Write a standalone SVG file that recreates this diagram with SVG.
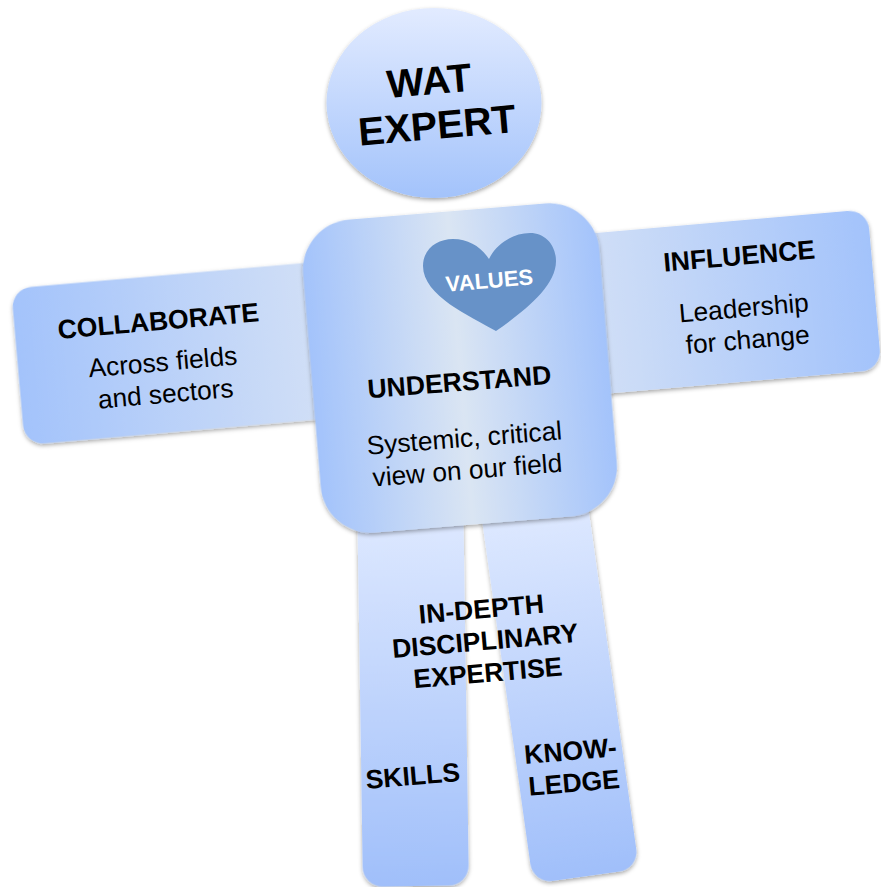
<svg xmlns="http://www.w3.org/2000/svg" width="881" height="887" viewBox="0 0 881 887">
<style>
text{font-family:"Liberation Sans",Arial,sans-serif;fill:#000;text-anchor:middle}
.h{font-weight:700;font-size:26.6px}
.b{font-size:26.3px}
.l{font-weight:700;font-size:26.6px}
</style>
<defs>
<filter id="sh" x="-10%" y="-10%" width="120%" height="120%"><feDropShadow dx="0" dy="2" stdDeviation="2" flood-color="#000" flood-opacity=".35"/></filter>
<linearGradient id="headG" x1="0" y1="0" x2="0" y2="1"><stop offset="0" stop-color="#e2ebff"/><stop offset="1" stop-color="#a3c3fb"/></linearGradient>
<linearGradient id="torsoG" x1="0" y1="0" x2="1" y2="0"><stop offset="0" stop-color="#a3c3fb"/><stop offset=".5" stop-color="#dae5f3"/><stop offset="1" stop-color="#a3c3fb"/></linearGradient>
<linearGradient id="armL" x1="0" y1="0" x2="1" y2="0"><stop offset="0" stop-color="#a3c3fb"/><stop offset="1" stop-color="#d4e1f6"/></linearGradient>
<linearGradient id="armR" x1="0" y1="0" x2="1" y2="0"><stop offset="0" stop-color="#d4e1f6"/><stop offset="1" stop-color="#a3c3fb"/></linearGradient>
<linearGradient id="legG" x1="0" y1="0" x2="0" y2="1"><stop offset="0" stop-color="#e0eaff"/><stop offset="1" stop-color="#a0bffa"/></linearGradient>
</defs>
<g id="leg-left"><rect x="360" y="500" width="106" height="386" rx="20" fill="url(#legG)" filter="url(#sh)" transform="rotate(-.85 412 690)"/></g>
<g id="leg-right"><rect x="506" y="494" width="107" height="384" rx="20" fill="url(#legG)" filter="url(#sh)" transform="rotate(-8 560 687)"/></g>
<g id="arm-left"><rect x="17.500" y="275.500" width="320" height="157" rx="20" fill="url(#armL)" filter="url(#sh)" transform="rotate(-5 165 355)"/></g>
<g id="arm-right"><rect x="570" y="222" width="305" height="161" rx="20" fill="url(#armR)" filter="url(#sh)" transform="rotate(-5 725 302)"/></g>
<g id="head"><ellipse cx="434" cy="103" rx="107.500" ry="95" fill="url(#headG)" filter="url(#sh)"/>
<g transform="rotate(-5 434 103)"><text x="431" y="94" style="font-weight:700;font-size:39.500px">WAT</text><text x="435" y="139" style="font-weight:700;font-size:39.500px">EXPERT</text></g></g>
<g id="torso"><rect x="311.500" y="211" width="297" height="314" rx="50" fill="url(#torsoG)" filter="url(#sh)" transform="rotate(-4.7 460 368)"/>
<path id="heart" d="M496 331C470 316 423 296 423 266C423 249 437 239 453 239C469 239 481 247 489 259C496 244 513 233 530 233C546 233 556 246 556 261C556 287 523 312 496 331Z" fill="#6792c8"/>
<text x="490" y="288" transform="rotate(-5 490 288)" style="font-weight:700;font-size:22px;fill:#fff">VALUES</text>
<text class="h" x="460" y="391" transform="rotate(-4.5 460 391)">UNDERSTAND</text>
<text class="b" x="465" y="447" transform="rotate(-4.5 465 447)">Systemic, critical</text>
<text class="b" x="468" y="479" transform="rotate(-4.5 468 479)">view on our field</text></g>
<g id="label-collaborate" transform="rotate(-5 160 330)"><text class="h" x="159" y="330">COLLABORATE</text>
<text class="b" x="160" y="371">Across fields</text><text class="b" x="160" y="403">and sectors</text></g>
<g id="label-influence" transform="rotate(-5 740 265)"><text class="h" x="740" y="265">INFLUENCE</text>
<text class="b" x="740" y="317">Leadership</text><text class="b" x="741" y="349">for change</text></g>
<g id="label-expertise" transform="rotate(-5 485 640)"><text class="l" x="484" y="618">IN-DEPTH</text><text class="l" x="485" y="650">DISCIPLINARY</text><text class="l" x="485" y="682">EXPERTISE</text></g>
<g id="label-skills"><text class="l" x="413.500" y="785" transform="rotate(-5 413 785)">SKILLS</text></g>
<g id="label-knowledge" transform="rotate(-5 572 770)"><text class="l" x="572" y="760">KNOW-</text><text class="l" x="573" y="792">LEDGE</text></g>
</svg>
